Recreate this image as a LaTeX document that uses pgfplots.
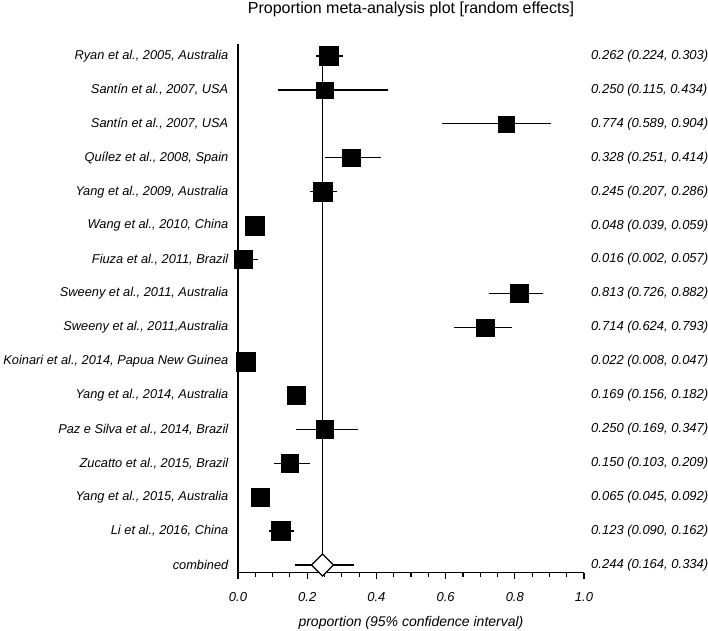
\documentclass[border=0pt]{standalone}
\usepackage{pgfplots}
\pgfplotsset{compat=1.18}
\usepackage{pgfplotstable}
\usepackage{fontspec}
\setmainfont{Liberation Sans}
\pgfplotstableread{
y m lo hi s lab
15 0.262 0.224 0.303 9.5 {0.262 (0.224, 0.303)}
14 0.250 0.115 0.434 8.2 {0.250 (0.115, 0.434)}
13 0.774 0.589 0.904 8.0 {0.774 (0.589, 0.904)}
12 0.328 0.251 0.414 8.8 {0.328 (0.251, 0.414)}
11 0.245 0.207 0.286 9.2 {0.245 (0.207, 0.286)}
10 0.048 0.039 0.059 9.5 {0.048 (0.039, 0.059)}
9 0.016 0.002 0.057 9.0 {0.016 (0.002, 0.057)}
8 0.813 0.726 0.882 9.0 {0.813 (0.726, 0.882)}
7 0.714 0.624 0.793 8.7 {0.714 (0.624, 0.793)}
6 0.022 0.008 0.047 9.3 {0.022 (0.008, 0.047)}
5 0.169 0.156 0.182 9.2 {0.169 (0.156, 0.182)}
4 0.250 0.169 0.347 8.8 {0.250 (0.169, 0.347)}
3 0.150 0.103 0.209 8.8 {0.150 (0.103, 0.209)}
2 0.065 0.045 0.092 9.2 {0.065 (0.045, 0.092)}
1 0.123 0.090 0.162 9.5 {0.123 (0.090, 0.162)}
}\data
\pgfplotstableread{
y m lo hi lab
0 0.244 0.164 0.334 {0.244 (0.164, 0.334)}
}\comb
\begin{document}
\begin{tikzpicture}
\begin{axis}[
  name=ax, at={(0,0)}, anchor=south west,
  scale only axis, width=346pt, height=528.7pt,
  xmin=0, xmax=1, ymin=-0.227, ymax=15.354,
  clip=false,
  axis lines*=left,
  axis line style={line width=1.2pt},
  xtick={0,0.2,...,1.0},
  minor x tick num=3,
  tick align=outside,
  major tick length=6pt, minor tick length=4pt,
  every tick/.style={black, line width=1.2pt},
  ytick={0,...,15},
  ytick style={draw=none},
  yticklabels={combined,
    {Li et al., 2016, China},
    {Yang et al., 2015, Australia},
    {Zucatto et al., 2015, Brazil},
    {Paz e Silva et al., 2014, Brazil},
    {Yang et al., 2014, Australia},
    {Koinari et al., 2014, Papua New Guinea},
    {Sweeny et al., 2011,Australia},
    {Sweeny et al., 2011, Australia},
    {Fiuza et al., 2011, Brazil},
    {Wang et al., 2010, China},
    {Yang et al., 2009, Australia},
    {Quílez et al., 2008, Spain},
    {Santín et al., 2007, USA},
    {Santín et al., 2007, USA},
    {Ryan et al., 2005, Australia}},
  yticklabel style={font=\fontsize{12.8}{15}\selectfont\itshape, inner sep=0pt, anchor=east, xshift=-3.5pt},
  /pgf/number format/assume math mode=true,
  xticklabel style={font=\fontsize{13}{15}\selectfont\itshape, yshift=-10pt, /pgf/number format/.cd, fixed, fixed zerofill, precision=1},
  xlabel={proportion (95\% confidence interval)},
  xlabel style={font=\fontsize{14}{16}\selectfont\itshape, at={(axis description cs:0.5,0)}, anchor=center, yshift=-50pt},
  title={Proportion meta-analysis plot [random effects]},
  title style={font=\fontsize{16}{18}\selectfont, at={(axis description cs:0.5,1)}, anchor=center, yshift=29pt},
]
% CI lines
\addplot[draw=none, mark=none,
  error bars/.cd, x dir=both, x explicit, error mark=none,
  error bar style={line width=1.2pt, black}]
  table[x=m, y=y, x error plus expr=\thisrow{hi}-\thisrow{m}, x error minus expr=\thisrow{m}-\thisrow{lo}] {\data};
\addplot[draw=none, mark=none,
  error bars/.cd, x dir=both, x explicit, error mark=none,
  error bar style={line width=1.2pt, black}]
  table[x=m, y=y, x error plus expr=\thisrow{hi}-\thisrow{m}, x error minus expr=\thisrow{m}-\thisrow{lo}] {\comb};
% pooled vertical line
\addplot[black, line width=1.2pt, mark=none] coordinates {(0.244,15) (0.244,0.33)};
% study boxes
\addplot[scatter, only marks, mark=square*,
  scatter/use mapped color={draw=black, fill=black},
  mark options={line width=0.4pt},
  visualization depends on={\thisrow{s}\as\ms},
  scatter/@pre marker code/.append style={/tikz/mark size=\ms}]
  table[x=m, y=y] {\data};
% combined diamond
\addplot[black, only marks, mark=diamond*, mark size=11pt,
  mark options={draw=black, fill=white, line width=1.2pt, xscale=1.3333}]
  table[x=m, y=y] {\comb};
% right labels
\addplot[draw=none, mark=none, nodes near coords, point meta=explicit symbolic,
  every node near coord/.style={anchor=west, inner sep=0pt, xshift=7pt, black,
    font=\fontsize{13}{15}\selectfont\itshape}]
  table[x expr=1, y=y, meta=lab] {\data};
\addplot[draw=none, mark=none, nodes near coords, point meta=explicit symbolic,
  every node near coord/.style={anchor=west, inner sep=0pt, xshift=7pt, black,
    font=\fontsize{13}{15}\selectfont\itshape}]
  table[x expr=1, y=y, meta=lab] {\comb};
\end{axis}
\pgfresetboundingbox
\path (-238pt,-57.3pt) rectangle (470pt,572.7pt);
\end{tikzpicture}
\end{document}
